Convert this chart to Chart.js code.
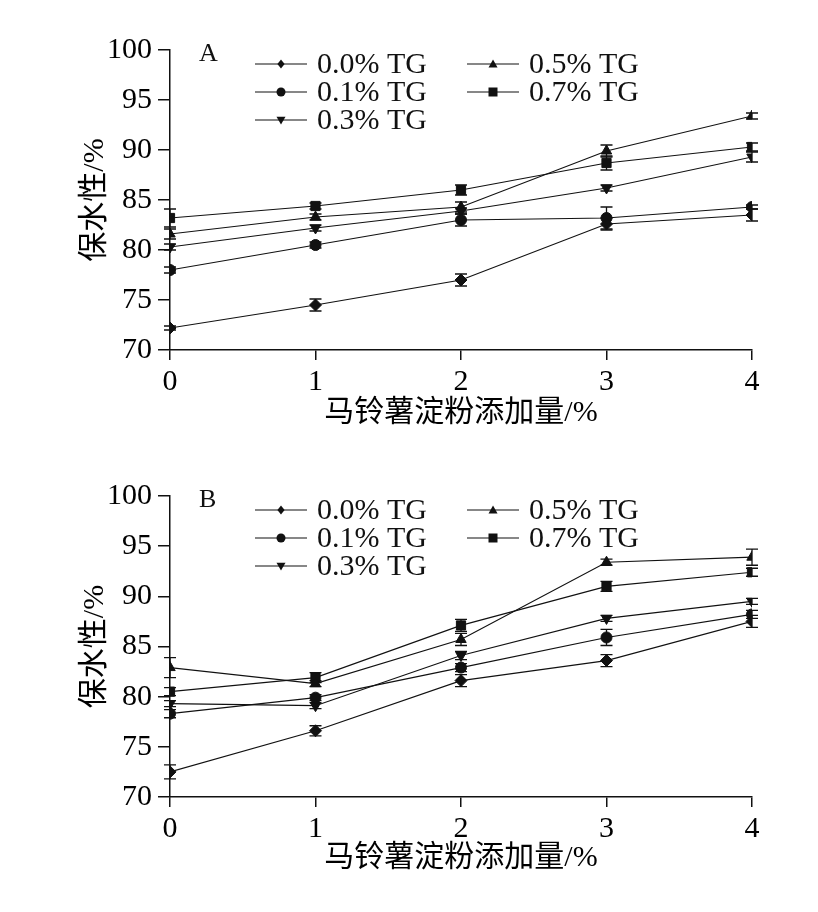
<!DOCTYPE html>
<html>
<head>
<meta charset="utf-8">
<script src="https://cdn.jsdelivr.net/npm/chart.js@4/dist/chart.umd.min.js"></script>
<style>
  html, body { margin: 0; padding: 0; background: #fff; }
  #wrap { position: relative; width: 818px; height: 912px; }
  .box { position: absolute; left: 0; width: 818px; height: 456px; }
  #boxA { top: 0; }
  #boxB { top: 456px; }
</style>
</head>
<body>
<div id="wrap">
  <div class="box" id="boxA"><canvas id="cA" width="818" height="456"></canvas></div>
  <div class="box" id="boxB"><canvas id="cB" width="818" height="456"></canvas></div>
</div>
<script>
// ---- data ----
const xValues = [0, 1, 2, 3, 4];
const yTicks = [70, 75, 80, 85, 90, 95, 100];
const seriesLabels = ['0.0% TG', '0.1% TG', '0.3% TG', '0.5% TG', '0.7% TG'];
const panelLabels = ['A', 'B'];
const xTitle = '马铃薯淀粉添加量/%';
const yTitle = '保水性/%';

// Panel A values
const aTG00 = [72.2, 74.5, 77.0, 82.6, 83.5];
const aTG01 = [78.0, 80.5, 83.0, 83.2, 84.3];
const aTG03 = [80.3, 82.2, 83.9, 86.2, 89.3];
const aTG05 = [81.6, 83.3, 84.3, 89.9, 93.4];
const aTG07 = [83.2, 84.4, 86.0, 88.7, 90.3];
// Panel A errors
const aErr00 = [0.2, 0.6, 0.6, 0.6, 0.6];
const aErr01 = [0.3, 0.3, 0.6, 1.1, 0.2];
const aErr03 = [0.3, 0.3, 0.3, 0.3, 0.5];
const aErr05 = [0.5, 0.3, 0.5, 0.6, 0.3];
const aErr07 = [0.9, 0.3, 0.5, 0.7, 0.4];

// Panel B values
const bTG00 = [72.5, 76.6, 81.6, 83.6, 87.5];
const bTG01 = [78.3, 79.9, 82.9, 85.9, 88.2];
const bTG03 = [79.3, 79.1, 84.1, 87.8, 89.5];
const bTG05 = [82.9, 81.3, 85.7, 93.4, 93.9];
const bTG07 = [80.5, 81.9, 87.1, 91.0, 92.4];
// Panel B errors
const bErr00 = [0.7, 0.5, 0.6, 0.6, 0.6];
const bErr01 = [0.4, 0.3, 0.4, 0.8, 0.4];
const bErr03 = [0.3, 0.3, 0.4, 0.3, 0.3];
const bErr05 = [1.0, 0.3, 0.6, 0.3, 0.8];
const bErr07 = [0.4, 0.5, 0.6, 0.5, 0.4];

// ---- styling ----
const INK = '#111';
const SERIF = '"Liberation Serif", "Times New Roman", "Noto Sans CJK SC", serif';
const markers = [
  { style: 'rectRot', radius: 6, rotation: 0 },
  { style: 'circle', radius: 5.5, rotation: 0 },
  { style: 'triangle', radius: 6, rotation: 180 },
  { style: 'triangle', radius: 6, rotation: 0 },
  { style: 'rect', radius: 6.5, rotation: 0 }
];

function buildDatasets(valueLists, errLists) {
  return valueLists.map((vals, i) => ({
    label: seriesLabels[i],
    data: xValues.map((x, j) => ({ x: x, y: vals[j] })),
    errors: errLists[i],
    borderColor: INK,
    backgroundColor: INK,
    borderWidth: 1.2,
    pointStyle: markers[i].style,
    pointRadius: markers[i].radius,
    pointRotation: markers[i].rotation,
    pointBackgroundColor: INK,
    pointBorderColor: INK,
    pointBorderWidth: 1,
    tension: 0,
    fill: false
  }));
}

const errorBarPlugin = {
  id: 'errorBars',
  beforeDatasetsDraw(chart) {
    const ctx = chart.ctx;
    const ys = chart.scales.y;
    ctx.save();
    ctx.strokeStyle = INK;
    ctx.lineWidth = 1.3;
    chart.data.datasets.forEach((ds, i) => {
      const meta = chart.getDatasetMeta(i);
      meta.data.forEach((pt, j) => {
        const v = ds.data[j].y, e = ds.errors[j];
        const y1 = ys.getPixelForValue(v - e);
        const y2 = ys.getPixelForValue(v + e);
        const x = pt.x;
        ctx.beginPath();
        ctx.moveTo(x, y1); ctx.lineTo(x, y2);
        ctx.moveTo(x - 6, y1); ctx.lineTo(x + 6, y1);
        ctx.moveTo(x - 6, y2); ctx.lineTo(x + 6, y2);
        ctx.stroke();
      });
    });
    ctx.restore();
  }
};

function drawMarker(ctx, m, x, y, r) {
  ctx.beginPath();
  if (m.style === 'circle') {
    ctx.arc(x, y, r, 0, Math.PI * 2);
  } else if (m.style === 'rectRot') {
    ctx.moveTo(x, y - r); ctx.lineTo(x + r * 0.8, y); ctx.lineTo(x, y + r); ctx.lineTo(x - r * 0.8, y);
    ctx.closePath();
  } else if (m.style === 'rect') {
    ctx.rect(x - r, y - r, 2 * r, 2 * r);
  } else if (m.style === 'triangle') {
    const d = m.rotation === 180 ? -1 : 1;
    ctx.moveTo(x, y - d * r); ctx.lineTo(x + r, y + d * r * 0.75); ctx.lineTo(x - r, y + d * r * 0.75);
    ctx.closePath();
  }
  ctx.fill();
}

const legendPlugin = {
  id: 'customLegend',
  afterDraw(chart, args, opts) {
    const ctx = chart.ctx;
    const area = chart.chartArea;
    ctx.save();
    ctx.fillStyle = INK;
    ctx.strokeStyle = INK;
    ctx.lineWidth = 1.2;
    // panel letter
    ctx.font = '26px ' + SERIF;
    ctx.textBaseline = 'middle';
    ctx.textAlign = 'left';
    ctx.fillText(opts.panel, area.left + 29, area.top + 4);
    // legend entries: column-first, 3 rows
    const cols = [area.left + 85, area.left + 297];
    const rows = [area.top + 14, area.top + 42, area.top + 70];
    ctx.font = '30px ' + SERIF;
    chart.data.datasets.forEach((ds, i) => {
      const c = Math.floor(i / 3), r = i % 3;
      const x0 = cols[c], y = rows[r];
      ctx.beginPath();
      ctx.moveTo(x0, y); ctx.lineTo(x0 + 52, y);
      ctx.stroke();
      drawMarker(ctx, markers[i], x0 + 26, y, 4.5);
      ctx.fillText(ds.label, x0 + 62, y + 1);
    });
    ctx.restore();
  }
};

function makeChart(canvasId, panel, valueLists, errLists, padTop, xAxisHeight, xTitlePad) {
  return new Chart(document.getElementById(canvasId), {
    type: 'line',
    data: { datasets: buildDatasets(valueLists, errLists) },
    plugins: [errorBarPlugin, legendPlugin],
    options: {
      responsive: false,
      animation: false,
      devicePixelRatio: 1,
      layout: { padding: { top: padTop, right: 66, bottom: 0, left: 0 } },
      plugins: {
        legend: { display: false },
        tooltip: { enabled: false },
        customLegend: { panel: panel }
      },
      scales: {
        x: {
          type: 'linear',
          min: 0, max: 4,
          afterFit(scale) { scale.height = xAxisHeight; },
          afterBuildTicks(scale) { scale.ticks = xValues.map(v => ({ value: v })); },
          ticks: { color: '#000', font: { family: SERIF, size: 30 }, padding: 4, maxRotation: 0 },
          grid: { drawOnChartArea: false, drawTicks: true, tickLength: 10, color: INK, lineWidth: 1.5 },
          border: { display: true, color: INK, width: 1.5 },
          title: { display: true, text: xTitle, color: '#000', font: { family: SERIF, size: 30 }, padding: { top: 0, bottom: xTitlePad } }
        },
        y: {
          type: 'linear',
          min: 70, max: 100,
          afterFit(scale) { scale.width = 170; },
          afterBuildTicks(scale) { scale.ticks = yTicks.map(v => ({ value: v })); },
          ticks: { color: '#000', font: { family: SERIF, size: 30 }, padding: 6 },
          grid: { drawOnChartArea: false, drawTicks: true, tickLength: 12, color: INK, lineWidth: 1.5 },
          border: { display: true, color: INK, width: 1.5 },
          title: { display: true, text: yTitle, color: '#000', font: { family: SERIF, size: 30 }, padding: { top: 77, bottom: 0 } }
        }
      }
    }
  });
}

makeChart('cA', panelLabels[0],
  [aTG00, aTG01, aTG03, aTG05, aTG07],
  [aErr00, aErr01, aErr03, aErr05, aErr07], 50, 106, 25);
makeChart('cB', panelLabels[1],
  [bTG00, bTG01, bTG03, bTG05, bTG07],
  [bErr00, bErr01, bErr03, bErr05, bErr07], 40, 115, 36);
</script>
</body>
</html>
